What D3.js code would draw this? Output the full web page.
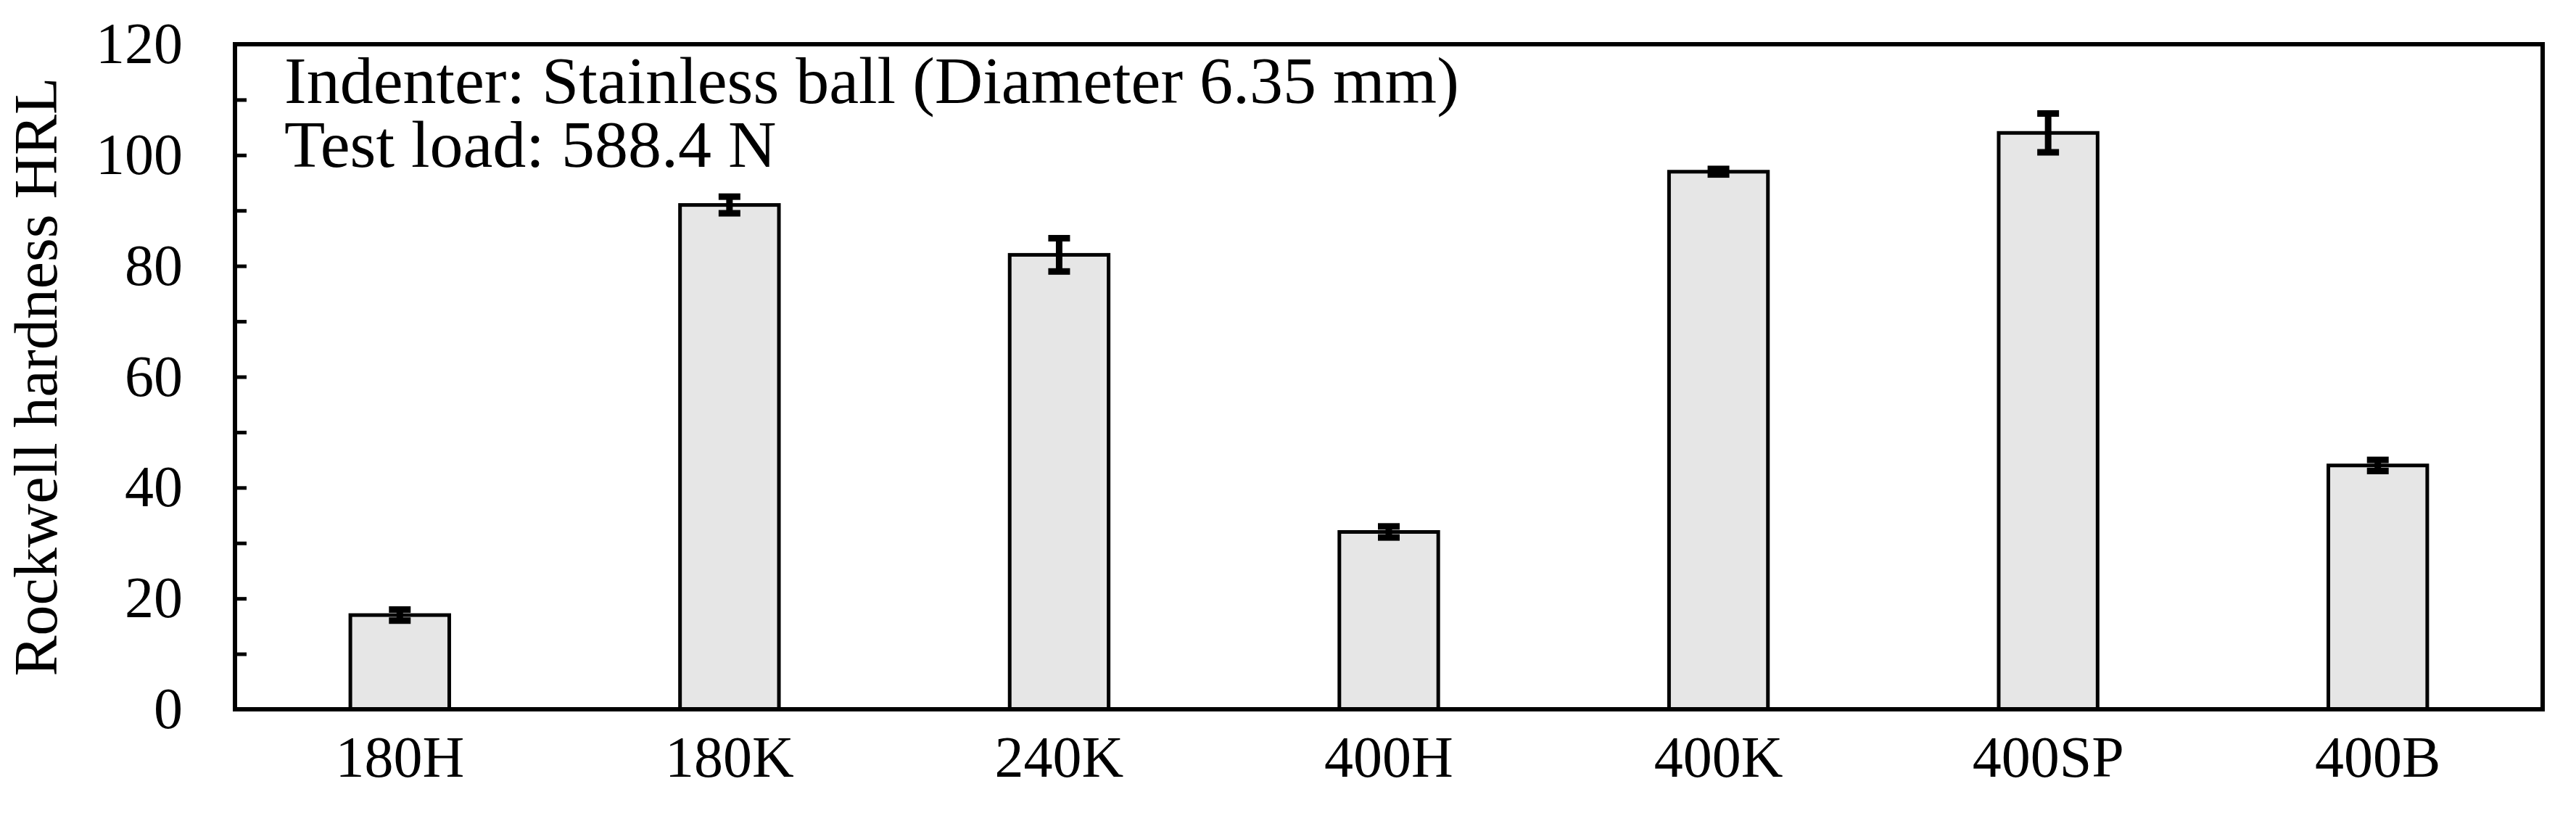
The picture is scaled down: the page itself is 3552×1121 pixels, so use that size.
<!DOCTYPE html>
<html><head><meta charset="utf-8">
<script src="https://cdn.jsdelivr.net/npm/d3@7"></script>
<style>body{margin:0;background:#fff}text{font-family:"Liberation Serif","DejaVu Serif",serif}</style>
</head><body>
<svg id="chart" width="3552" height="1121"></svg>
<script>
var categories = ['180H', '180K', '240K', '400H', '400K', '400SP', '400B'];
var hardness = [17, 91, 82, 32, 97, 104, 44];
var errors = [1, 1.5, 3, 1, 0.5, 3.5, 1];
var yTicks = [0, 20, 40, 60, 80, 100, 120];

var margin = {left: 324, right: 46, top: 61, bottom: 143};
var W = 3552, H = 1121;
var svg = d3.select('#chart');

var x = d3.scaleBand().domain(categories)
  .range([margin.left, W - margin.right]).paddingInner(0.7).paddingOuter(0.35);
var y = d3.scaleLinear().domain([0, 120]).range([H - margin.bottom, margin.top]);

// bars
svg.selectAll('.bar').data(categories).enter().append('rect')
  .attr('x', d => x(d))
  .attr('y', (d, i) => y(hardness[i]))
  .attr('width', x.bandwidth())
  .attr('height', (d, i) => y(0) - y(hardness[i]))
  .attr('fill', '#e6e6e6').attr('stroke', '#000').attr('stroke-width', 5);

// error bars
var eb = svg.selectAll('.err').data(categories).enter().append('g');
eb.append('line')
  .attr('x1', d => x(d) + x.bandwidth() / 2).attr('x2', d => x(d) + x.bandwidth() / 2)
  .attr('y1', (d, i) => y(hardness[i] - errors[i])).attr('y2', (d, i) => y(hardness[i] + errors[i]))
  .attr('stroke', '#000').attr('stroke-width', 9);
[-1, 1].forEach(s => {
  eb.append('line')
    .attr('x1', d => x(d) + x.bandwidth() / 2 - 15).attr('x2', d => x(d) + x.bandwidth() / 2 + 15)
    .attr('y1', (d, i) => y(hardness[i] + s * errors[i])).attr('y2', (d, i) => y(hardness[i] + s * errors[i]))
    .attr('stroke', '#000').attr('stroke-width', 9);
});

// frame
svg.append('rect')
  .attr('x', margin.left).attr('y', margin.top)
  .attr('width', W - margin.left - margin.right).attr('height', y(0) - margin.top)
  .attr('fill', 'none').attr('stroke', '#000').attr('stroke-width', 6);

// y axis with inward ticks
var yAxis = svg.append('g').attr('transform', 'translate(' + margin.left + ',0)')
  .call(d3.axisLeft(y).tickValues(d3.range(0, 121, 10)).tickSize(-16).tickFormat(d => yTicks.includes(d) ? d : '').tickPadding(72));
yAxis.select('.domain').remove();
yAxis.selectAll('.tick line').attr('stroke-width', 5);
yAxis.selectAll('text').attr('font-size', 80).attr('fill', '#000');

// x axis labels
var xAxis = svg.append('g').attr('transform', 'translate(0,' + y(0) + ')')
  .call(d3.axisBottom(x).tickSize(0).tickPadding(36));
xAxis.select('.domain').remove();
xAxis.selectAll('text').attr('font-size', 80).attr('fill', '#000');

svg.append('text').attr('transform', 'translate(78,' + (y(60)) + ') rotate(-90)')
  .attr('text-anchor', 'middle').attr('font-size', 84).text('Rockwell hardness HRL');

svg.append('text').attr('x', 392).attr('y', 142).attr('font-size', 92)
  .text('Indenter: Stainless ball (Diameter 6.35 mm)');
svg.append('text').attr('x', 392).attr('y', 230).attr('font-size', 92)
  .text('Test load: 588.4 N');
</script>
</body></html>
